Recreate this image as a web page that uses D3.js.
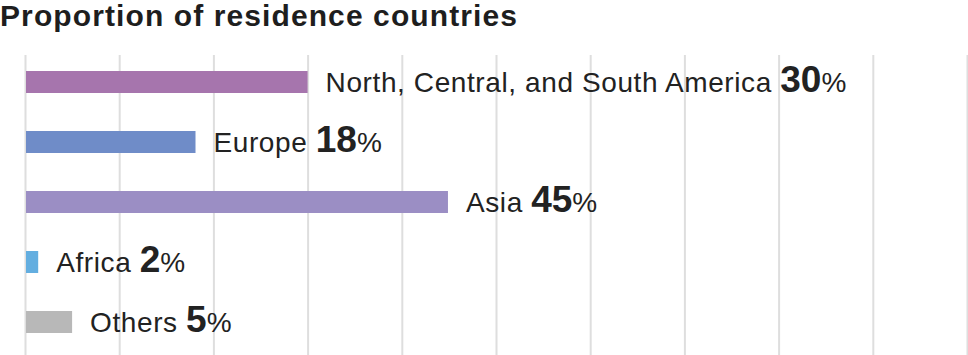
<!DOCTYPE html>
<html>
<head>
<meta charset="utf-8">
<script src="https://cdn.jsdelivr.net/npm/d3@7"></script>
<style>
  body { margin: 0; background: #fff; }
  svg { display: block; font-family: "Liberation Sans", Arial, sans-serif; }
</style>
</head>
<body>
<svg width="968" height="355"></svg>
<script>
// chart data
const regions = ["North, Central, and South America", "Europe", "Asia", "Africa", "Others"];
const shares = [30, 18.1, 44.9, 1.4, 5];          // bar lengths, %
const shareLabels = ["30", "18", "45", "2", "5"]; // printed numbers
const barColors = ["#a675ad", "#6f8cc8", "#9b8ec4", "#63aee0", "#b8b8b8"];
const gridTicks = [0, 10, 20, 30, 40, 50, 60, 70, 80, 90, 100];

const svg = d3.select("svg");
const width = Number(svg.attr("width"));
const height = Number(svg.attr("height"));

const x = d3.scaleLinear().domain([0, 100]).range([25, 967]);
const y = d3.scaleBand().domain(regions).range([52, 352]);
const barH = 22;

// title
svg.append("text")
    .attr("x", 0)
    .attr("y", 26)
    .attr("font-size", 30)
    .attr("font-weight", "bold")
    .attr("letter-spacing", 1.1)
    .attr("fill", "#1e1e1e")
    .text("Proportion of residence countries");

// vertical grid lines
svg.append("g")
    .attr("transform", `translate(0, ${height})`)
    .call(d3.axisBottom(x).tickValues(gridTicks).tickSize(-(height - 55)).tickFormat(""))
    .call(g => g.select(".domain").remove())
    .call(g => g.selectAll(".tick line").attr("stroke", "#dedede").attr("stroke-width", 2));

// bars
svg.append("g")
    .selectAll("rect")
    .data(regions)
    .join("rect")
    .attr("x", x(0) + 1)
    .attr("y", d => y(d) + (y.bandwidth() - barH) / 2)
    .attr("width", (d, i) => x(shares[i]) - x(0) - 1)
    .attr("height", barH)
    .attr("fill", (d, i) => barColors[i]);

// labels: name + bold number + %
const labels = svg.append("g")
    .selectAll("text")
    .data(regions)
    .join("text")
    .attr("x", (d, i) => x(shares[i]) + 18)
    .attr("y", d => y(d) + y.bandwidth() / 2 + 10)
    .attr("fill", "#222");

labels.append("tspan")
    .attr("font-size", 28)
    .attr("letter-spacing", 0.6)
    .text(d => d + " ");
labels.append("tspan")
    .attr("font-size", 37)
    .attr("font-weight", "bold")
    .text((d, i) => shareLabels[i]);
labels.append("tspan")
    .attr("font-size", 28)
    .attr("font-weight", 500)
    .text("%");
</script>
</body>
</html>
